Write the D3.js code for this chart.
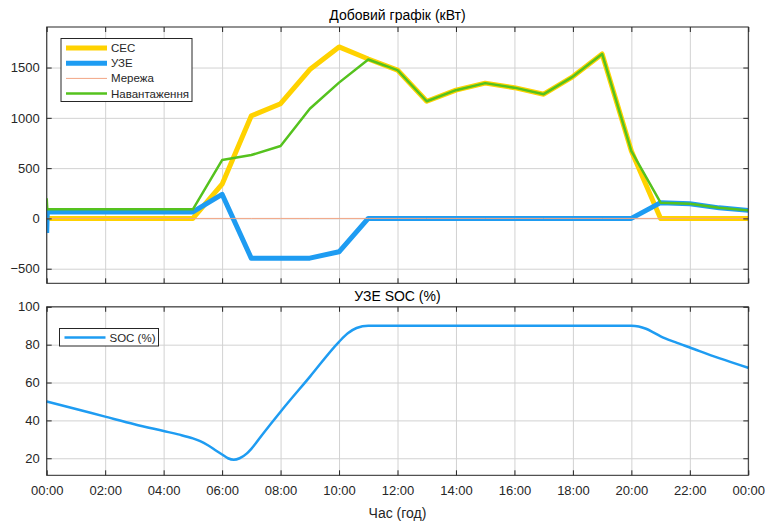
<!DOCTYPE html>
<html>
<head>
<meta charset="utf-8">
<script src="https://cdn.jsdelivr.net/npm/d3@7"></script>
<style>
  body { margin: 0; background: #fff; }
  svg { font-family: "Liberation Sans", Arial, sans-serif; }
</style>
</head>
<body>
<div id="chart"></div>
<script>
// hourly time base (first two points catch the start-up spike)
const hours = [0, 0.02, 1, 2, 3, 4, 5, 6, 7, 8, 9, 10, 11, 12, 13, 14, 15, 16, 17, 18, 19, 20, 21, 22, 23, 24];
const pvPower   = [0, 0, 0, 0, 0, 0, 0, 340, 1020, 1140, 1480, 1705, 1585, 1475, 1165, 1275, 1345, 1300, 1235, 1410, 1635, 670, 0, 0, 0, 0];
const essPower  = [-145, 65, 65, 65, 65, 65, 65, 240, -397, -397, -395, -332, 0, 0, 0, 0, 0, 0, 0, 0, 0, 0, 157, 145, 105, 80];
const gridPower = [0, 0, 0, 0, 0, 0, 0, 0, 0, 0, 0, 0, 0, 0, 0, 0, 0, 0, 0, 0, 0, 0, 0, 0, 0, 0];
const loadPower = [200, 90, 90, 90, 90, 90, 90, 580, 630, 720, 1090, 1350, 1580, 1475, 1165, 1275, 1345, 1300, 1235, 1410, 1635, 670, 157, 145, 105, 80];

const seriesNames = ["СЕС", "УЗЕ", "Мережа", "Навантаження"];

// state of charge
const socHours = [0, 1, 2, 3, 4, 4.5, 5, 5.25, 5.5, 5.8, 6, 6.2, 6.4, 6.6, 6.85, 7, 7.4, 8, 9, 10, 10.3, 10.6, 11, 12, 14, 16, 18, 20, 20.25, 20.5, 20.75, 21, 21.5, 22, 23, 24];
const socValues = [50, 46, 42, 38, 34.4, 32.6, 30.5, 29, 27, 24, 22, 20, 19.2, 20, 22.6, 25, 33, 44.6, 63, 81.5, 86, 88.8, 90, 90, 90, 90, 90, 90, 89.6, 88.4, 86.5, 84.4, 81.3, 78.5, 72.9, 67.8];

const xTickHours = [0, 2, 4, 6, 8, 10, 12, 14, 16, 18, 20, 22, 24];
const xTickLabels = ["00:00", "02:00", "04:00", "06:00", "08:00", "10:00", "12:00", "14:00", "16:00", "18:00", "20:00", "22:00", "00:00"];
const topYTicks = [-500, 0, 500, 1000, 1500];
const socYTicks = [20, 40, 60, 80, 100];

const width = 765, height = 523;
const left = 46.7, right = 748.3;
const topPanel = { top: 27, bottom: 283.3 };
const socPanel = { top: 306.8, bottom: 475.3 };

const colors = { pv: "#ffd200", ess: "#1e9cf2", grid: "#f2a584", load: "#55c21e" };
const textColor = "#262626";
const gridColor = "#d2d2d2";

const svg = d3.select("#chart").append("svg")
  .attr("width", width)
  .attr("height", height);

const x = d3.scaleLinear().domain([0, 24]).range([left, right]);
const yTop = d3.scaleLinear().domain([-645, 1903]).range([topPanel.bottom, topPanel.top]);
const ySoc = d3.scaleLinear().domain([11, 100]).range([socPanel.bottom, socPanel.top]);

function drawGrid(panel, y, yTicks) {
  const g = svg.append("g");
  const h = panel.bottom - panel.top;
  const w = right - left;
  g.append("g").attr("transform", `translate(0,${panel.bottom})`)
    .call(d3.axisBottom(x).tickValues(xTickHours).tickSize(-h).tickFormat(""))
    .call(a => a.select(".domain").remove())
    .call(a => a.selectAll("line").attr("stroke", gridColor));
  g.append("g").attr("transform", `translate(${left},0)`)
    .call(d3.axisLeft(y).tickValues(yTicks).tickSize(-w).tickFormat(""))
    .call(a => a.select(".domain").remove())
    .call(a => a.selectAll("line").attr("stroke", gridColor));
}

function drawBox(panel, y, yTicks, showXLabels) {
  const g = svg.append("g");
  const tick = 5;
  // inner ticks on all four sides
  g.append("g").attr("transform", `translate(0,${panel.bottom})`)
    .call(d3.axisBottom(x).tickValues(xTickHours).tickSize(-tick).tickPadding(10)
      .tickFormat((d, i) => showXLabels ? xTickLabels[i] : ""))
    .call(a => a.select(".domain").remove())
    .call(a => a.selectAll("line").attr("stroke", textColor))
    .call(a => a.selectAll("text").attr("fill", textColor).attr("font-size", 13).attr("font-family", "Liberation Sans, Arial, sans-serif"));
  g.append("g").attr("transform", `translate(0,${panel.top})`)
    .call(d3.axisTop(x).tickValues(xTickHours).tickSize(-tick).tickFormat(""))
    .call(a => a.select(".domain").remove())
    .call(a => a.selectAll("line").attr("stroke", textColor));
  g.append("g").attr("transform", `translate(${left},0)`)
    .call(d3.axisLeft(y).tickValues(yTicks).tickSize(-tick).tickPadding(7).tickFormat(d3.format("d")))
    .call(a => a.select(".domain").remove())
    .call(a => a.selectAll("line").attr("stroke", textColor))
    .call(a => a.selectAll("text").attr("fill", textColor).attr("font-size", 13).attr("font-family", "Liberation Sans, Arial, sans-serif"));
  g.append("g").attr("transform", `translate(${right},0)`)
    .call(d3.axisRight(y).tickValues(yTicks).tickSize(-tick).tickFormat(""))
    .call(a => a.select(".domain").remove())
    .call(a => a.selectAll("line").attr("stroke", textColor));
  g.append("rect")
    .attr("x", left).attr("y", panel.top)
    .attr("width", right - left).attr("height", panel.bottom - panel.top)
    .attr("fill", "none").attr("stroke", textColor).attr("stroke-width", 1);
}

// ---- top panel: daily power ----
drawGrid(topPanel, yTop, topYTicks);

svg.append("clipPath").attr("id", "clip-top")
  .append("rect").attr("x", left).attr("y", topPanel.top)
  .attr("width", right - left).attr("height", topPanel.bottom - topPanel.top);

const powerLine = vals => d3.line()
  .x((d, i) => x(hours[i]))
  .y(d => yTop(d))(vals);

const topSeries = [
  { name: seriesNames[0], values: pvPower, color: colors.pv, width: 5 },
  { name: seriesNames[1], values: essPower, color: colors.ess, width: 5 },
  { name: seriesNames[2], values: gridPower, color: colors.grid, width: 1 },
  { name: seriesNames[3], values: loadPower, color: colors.load, width: 2.5 }
];

const topLines = svg.append("g").attr("clip-path", "url(#clip-top)");
topSeries.forEach(s => {
  topLines.append("path")
    .attr("d", powerLine(s.values))
    .attr("fill", "none")
    .attr("stroke", s.color)
    .attr("stroke-width", s.width)
    .attr("stroke-linejoin", "round");
});

drawBox(topPanel, yTop, topYTicks, false);

// legend (top)
const legTop = svg.append("g").attr("transform", "translate(61,38.5)");
legTop.append("rect").attr("width", 131).attr("height", 63)
  .attr("fill", "#fff").attr("stroke", "#262626").attr("stroke-width", 1);
topSeries.forEach((s, i) => {
  const yy = 9.5 + i * 15.2;
  legTop.append("line").attr("x1", 5).attr("x2", 46).attr("y1", yy).attr("y2", yy)
    .attr("stroke", s.color).attr("stroke-width", s.width);
  legTop.append("text").attr("x", 50).attr("y", yy + 4)
    .attr("font-size", 11.5).attr("fill", textColor).text(s.name);
});

svg.append("text").attr("x", (left + right) / 2).attr("y", 20)
  .attr("text-anchor", "middle").attr("font-size", 14).attr("fill", "#000")
  .text("Добовий графік (кВт)");

// ---- bottom panel: state of charge ----
drawGrid(socPanel, ySoc, socYTicks);

const socLine = d3.line()
  .x((d, i) => x(socHours[i]))
  .y(d => ySoc(d))
  .curve(d3.curveMonotoneX);

svg.append("path")
  .attr("d", socLine(socValues))
  .attr("fill", "none")
  .attr("stroke", colors.ess)
  .attr("stroke-width", 2.5);

drawBox(socPanel, ySoc, socYTicks, true);

const legSoc = svg.append("g").attr("transform", "translate(59.5,328.5)");
legSoc.append("rect").attr("width", 99).attr("height", 17.5)
  .attr("fill", "#fff").attr("stroke", "#262626").attr("stroke-width", 1);
legSoc.append("line").attr("x1", 5).attr("x2", 46).attr("y1", 9).attr("y2", 9)
  .attr("stroke", colors.ess).attr("stroke-width", 2.5);
legSoc.append("text").attr("x", 50).attr("y", 13)
  .attr("font-size", 11.5).attr("fill", textColor).text("SOC (%)");

svg.append("text").attr("x", (left + right) / 2).attr("y", 300.5)
  .attr("text-anchor", "middle").attr("font-size", 14).attr("fill", "#000")
  .text("УЗЕ SOC (%)");

svg.append("text").attr("x", (left + right) / 2).attr("y", 518)
  .attr("text-anchor", "middle").attr("font-size", 14).attr("fill", textColor)
  .text("Час (год)");
</script>
</body>
</html>
